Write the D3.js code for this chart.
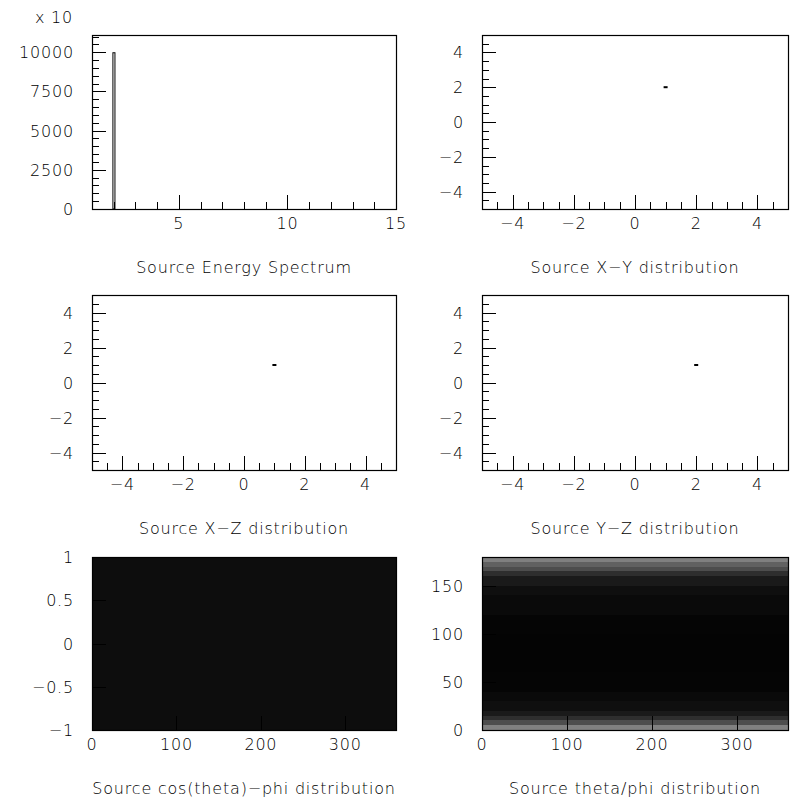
<!DOCTYPE html>
<html><head><meta charset="utf-8">
<script src="https://cdn.jsdelivr.net/npm/d3@7"></script>
<style>
body{margin:0;background:#fff}
svg{display:block}
text{font-family:"DejaVu Sans",sans-serif;font-size:16px;font-weight:200;fill:#000;letter-spacing:0.8px}
</style>
</head><body><svg id="c" width="790" height="798"></svg>
<script>
// ---------------- DATA ----------------
// Panel 1: Source Energy Spectrum (counts shown x 10)
const energyDomain = [1, 15];
const energyCountDomain = [0, 11100];
const energyBinLo = [1.94];
const energyBinHi = [2.08];
const energyCounts = [10000];
const energyXMajor = [5, 10, 15];
const energyXMinor = [2, 3, 4, 6, 7, 8, 9, 11, 12, 13, 14];
const energyYMajor = [0, 2500, 5000, 7500, 10000];
const energyYMinor = [500, 1000, 1500, 2000, 3000, 3500, 4000, 4500, 5500, 6000, 6500, 7000, 8000, 8500, 9000, 9500, 10500, 11000];

// Panels 2-4: positions (single point source)
const posDomain = [-5, 5];
const posMajor = [-4, -2, 0, 2, 4];
const posMinor = [-4.5, -3.5, -3, -2.5, -1.5, -1, -0.5, 0.5, 1, 1.5, 2.5, 3, 3.5, 4.5];
const xyPoints = [[1, 2]];
const xzPoints = [[1, 1]];
const yzPoints = [[2, 1]];

// Panel 5: cos(theta) vs phi — fraction of area covered by points per cos(theta) band
const phiDomain = [0, 360];
const phiMajor = [0, 100, 200, 300];
const cosDomain = [-1, 1];
const cosMajor = [-1, -0.5, 0, 0.5, 1];
const cosBandEdges = [-1, -0.5, 0, 0.5, 1];
const cosCoverage = [0.95, 0.95, 0.95, 0.95];

// Panel 6: theta vs phi — fraction of area covered by points per theta band
const thetaDomain = [0, 180];
const thetaMajor = [0, 50, 100, 150];
const thetaBandEdges = [0, 5, 10, 15, 20, 30, 40, 60, 80, 100, 120, 140, 150, 160, 165, 170, 175, 180];
const thetaCoverage = [0.5, 0.7, 0.82, 0.9, 0.94, 0.96, 0.98, 0.985, 0.985, 0.98, 0.96, 0.94, 0.9, 0.82, 0.7, 0.62, 0.5];

const titles = ["Source Energy Spectrum", "Source X\u2212Y distribution", "Source X\u2212Z distribution",
  "Source Y\u2212Z distribution", "Source cos(theta)\u2212phi distribution", "Source theta/phi distribution"];

// ---------------- LAYOUT ----------------
const svg = d3.select("#c");
const cols = [[92, 396], [482, 788]];
const rows = [[35, 209], [295, 470], [557, 730]];
const fmt = d3.format("");

function panel(ci, ri, xDom, yDom, title) {
  const [x0, x1] = cols[ci], [y0, y1] = rows[ri];
  const g = svg.append("g");
  const x = d3.scaleLinear().domain(xDom).range([x0, x1]);
  const y = d3.scaleLinear().domain(yDom).range([y1, y0]);
  g.append("text").attr("x", (x0 + x1) / 2).attr("y", y1 + 64).attr("text-anchor", "middle").text(title);
  return {g, x, y, x0, x1, y0, y1};
}

function axes(p, xMaj, xMin, yMaj, yMin, xLab, yLab) {
  const {g, x, y, x0, x1, y0, y1} = p;
  const ax = g.append("g").attr("fill", "none").attr("stroke", "#000").attr("stroke-width", 1);
  ax.selectAll(".xm").data(xMin).join("line")
    .attr("x1", d => Math.round(x(d)) + 0.5).attr("x2", d => Math.round(x(d)) + 0.5)
    .attr("y1", y1).attr("y2", y1 - 7);
  ax.selectAll(".xM").data(xMaj).join("line")
    .attr("x1", d => Math.round(x(d)) + 0.5).attr("x2", d => Math.round(x(d)) + 0.5)
    .attr("y1", y1).attr("y2", y1 - 14);
  ax.selectAll(".ym").data(yMin).join("line")
    .attr("y1", d => Math.round(y(d)) + 0.5).attr("y2", d => Math.round(y(d)) + 0.5)
    .attr("x1", x0).attr("x2", x0 + 7);
  ax.selectAll(".yM").data(yMaj).join("line")
    .attr("y1", d => Math.round(y(d)) + 0.5).attr("y2", d => Math.round(y(d)) + 0.5)
    .attr("x1", x0).attr("x2", x0 + 14);
  ax.append("rect").attr("x", x0 + 0.5).attr("y", y0 + 0.5).attr("width", x1 - x0).attr("height", y1 - y0)
    .attr("stroke-width", 1.2);
  g.selectAll(".xl").data(xLab).join("text")
    .attr("x", d => x(d)).attr("y", y1 + 20).attr("text-anchor", "middle").text(d => fmt(d));
  g.selectAll(".yl").data(yLab).join("text")
    .attr("x", x0 - 18).attr("y", d => y(d) + 6).attr("text-anchor", "end").text(d => fmt(d));
}

// Panel 1
{
  const p = panel(0, 0, energyDomain, energyCountDomain, titles[0]);
  p.g.selectAll(".bar").data(energyCounts).join("rect")
    .attr("x", (d, i) => p.x(energyBinLo[i]) + 0.5).attr("width", (d, i) => p.x(energyBinHi[i]) - p.x(energyBinLo[i]) - 1)
    .attr("y", d => p.y(d) + 0.5).attr("height", d => p.y(0) - p.y(d) - 0.5)
    .attr("fill", "none").attr("stroke", "#000").attr("stroke-width", 1);
  axes(p, energyXMajor, energyXMinor, energyYMajor, energyYMinor, energyXMajor, energyYMajor);
  svg.append("text").attr("x", 73).attr("y", 23).attr("text-anchor", "end").text("x 10");
}

// Panels 2-4
[[1, 0, xyPoints, 1], [0, 1, xzPoints, 2], [1, 1, yzPoints, 3]].forEach(([ci, ri, pts, ti]) => {
  const p = panel(ci, ri, posDomain, posDomain, titles[ti]);
  axes(p, posMajor, posMinor, posMajor, posMinor, posMajor, posMajor);
  p.g.selectAll(".pt").data(pts).join("rect")
    .attr("x", d => p.x(d[0]) - 2).attr("y", d => p.y(d[1]) - 1)
    .attr("width", 4).attr("height", 2).attr("fill", "#000");
});

// Panels 5-6: density bands (coverage -> grey level)
const grey = d3.scaleLinear().domain([0, 1]).range(["#ffffff", "#000000"]);
function bands(p, edges, cov) {
  p.g.append("g").selectAll("rect").data(cov).join("rect")
    .attr("x", p.x0).attr("width", p.x1 - p.x0)
    .attr("y", (d, i) => p.y(edges[i + 1])).attr("height", (d, i) => p.y(edges[i]) - p.y(edges[i + 1]))
    .attr("fill", d => grey(d))
    .attr("shape-rendering", "crispEdges");
}
{
  const p = panel(0, 2, phiDomain, cosDomain, titles[4]);
  bands(p, cosBandEdges, cosCoverage);
  axes(p, phiMajor, [], cosMajor, [], phiMajor, cosMajor);
}
{
  const p = panel(1, 2, phiDomain, thetaDomain, titles[5]);
  bands(p, thetaBandEdges, thetaCoverage);
  axes(p, phiMajor, [], thetaMajor, [], phiMajor, thetaMajor);
}
</script>
</body></html>
